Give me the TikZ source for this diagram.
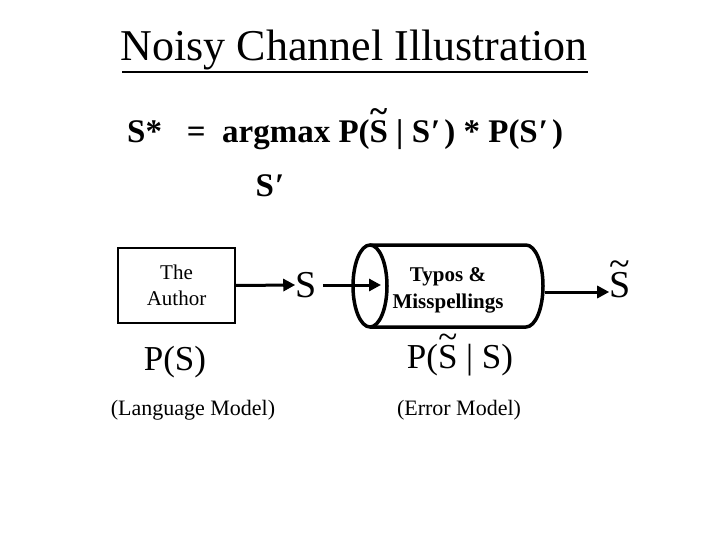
\documentclass[tikz,border=0pt]{standalone}
\usepackage{fontspec}
\setmainfont{Liberation Serif}
\usetikzlibrary{arrows.meta}
\newcommand{\tildeS}[1][0.62em]{{\ooalign{S\cr\hidewidth\raisebox{#1}{\textasciitilde}\hidewidth\cr}}}
\begin{document}
\begin{tikzpicture}[x=1pt,y=-1pt,
  arr/.style={line width=3pt,-{Triangle[length=12pt,width=12pt]}}]
\useasboundingbox (0,0) rectangle (720,540);
\node[inner sep=0pt,font=\fontsize{44}{44}\selectfont] (title) at (354,50) {Noisy Channel Illustration};
\draw[line width=1.5pt] (122,72) -- (588,72);
\node[inner sep=0pt,anchor=west,font=\fontsize{33}{33}\selectfont\bfseries] (formula) at (127,135) {S*\ \ \ = \ argmax P(\tildeS\ | S\kern1pt′\kern4pt) * P(S\kern1pt′\kern4pt)};
\node[inner sep=0pt,font=\fontsize{33}{33}\selectfont\bfseries] (sp) at (270,186) {S\kern1pt′};
\node[draw,line width=1.5pt,minimum width=117pt,minimum height=75pt,align=center,inner sep=0pt,font=\fontsize{21}{26}\selectfont] (author) at (176.5,285.5) {The\\Author};
\node[inner sep=0pt,font=\fontsize{38}{38}\selectfont] (s) at (306,285) {S};
\draw[arr] (author.east) -- (s.west);
\draw[line width=3.5pt] (370,245) -- (526,245) arc[start angle=90,end angle=-90,x radius=17pt,y radius=41pt] -- (370,327);
\draw[line width=3.5pt] (370,286) ellipse[x radius=17pt,y radius=41pt];
\node[inner sep=0pt,align=center,font=\fontsize{21}{27}\selectfont\bfseries] (typos) at (448,290) {Typos \&\\Misspellings};
\coordinate (cin) at (381,285);
\draw[arr] (s.east) ++(6,0) -- (cin);
\node[inner sep=0pt,font=\fontsize{38}{38}\selectfont] (st) at (620,285) {\tildeS[0.55em]};
\coordinate (cout) at (545,292);
\draw[arr] (cout) -- (st.west |- cout);
\node[inner sep=0pt,font=\fontsize{35}{35}\selectfont] (ps) at (175,362) {P(S)};
\node[inner sep=0pt,font=\fontsize{35}{35}\selectfont] (pe) at (460,360) {P(\tildeS[0.58em]\ | S)};
\node[inner sep=0pt,font=\fontsize{22}{22}\selectfont] (lm) at (193,410) {(Language Model)};
\node[inner sep=0pt,font=\fontsize{22}{22}\selectfont] (em) at (459,410) {(Error Model)};
\end{tikzpicture}
\end{document}
